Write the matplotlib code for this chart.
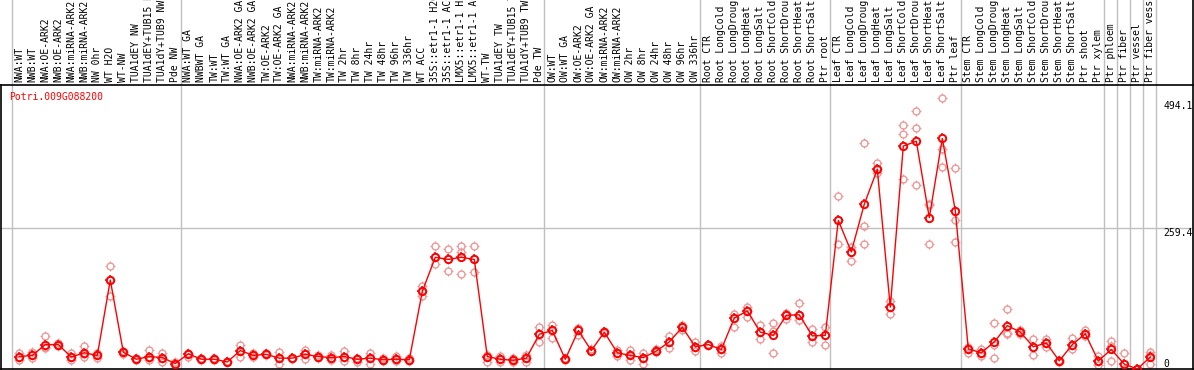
import numpy as np
import matplotlib
matplotlib.use('Agg')
import matplotlib.pyplot as plt
from matplotlib.path import Path
from matplotlib.lines import Line2D

# подписи столбцов (образцы)
labels = [
    'NWA:WT', 'NWB:WT', 'NWA:OE-ARK2', 'NWB:OE-ARK2', 'NWA:miRNA-ARK2', 'NWB:miRNA-ARK2',
    'NW 0hr', 'WT H2O', 'WT-NW', 'TUA1dEY NW', 'TUA1dEY+TUB15 NW', 'TUA1dY+TUB9 NW', 'Pde NW',
    'NWA:WT GA', 'NWBWT GA', 'TW:WT', 'TW:WT GA', 'NWA:OE-ARK2 GA', 'NWB:OE-ARK2 GA',
    'TW:OE-ARK2', 'TW:OE-ARK2 GA', 'NWA:miRNA-ARK2', 'NWB:miRNA-ARK2', 'TW:miRNA-ARK2',
    'TW:miRNA-ARK2', 'TW 2hr', 'TW 8hr', 'TW 24hr', 'TW 48hr', 'TW 96hr', 'TW 336hr',
    'WT ACC', '35S::etr1-1 H2O', '35S::etr1-1 ACC', 'LMX5::etr1-1 H2O', 'LMX5::etr1-1 ACC',
    'WT-TW', 'TUA1dEY TW', 'TUA1dEY+TUB15 TW', 'TUA1dY+TUB9 TW', 'Pde TW',
    'OW:WT', 'OW:WT GA', 'OW:OE-ARK2', 'OW:OE-ARK2 GA', 'OW:miRNA-ARK2', 'OW:miRNA-ARK2',
    'OW 2hr', 'OW 8hr', 'OW 24hr', 'OW 48hr', 'OW 96hr', 'OW 336hr',
    'Root CTR', 'Root LongCold', 'Root LongDrought', 'Root LongHeat', 'Root LongSalt',
    'Root ShortCold', 'Root ShortDrought', 'Root ShortHeat', 'Root ShortSalt', 'Ptr root',
    'Leaf CTR', 'Leaf LongCold', 'Leaf LongDrought', 'Leaf LongHeat', 'Leaf LongSalt',
    'Leaf ShortCold', 'Leaf ShortDrought', 'Leaf ShortHeat', 'Leaf ShortSalt', 'Ptr leaf',
    'Stem CTR', 'Stem LongCold', 'Stem LongDrought', 'Stem LongHeat', 'Stem LongSalt',
    'Stem ShortCold', 'Stem ShortDrought', 'Stem ShortHeat', 'Stem ShortSalt', 'Ptr shoot',
    'Ptr xylem', 'Ptr phloem', 'Ptr fiber', 'Ptr vessel', 'Ptr fiber vessel',
]

# средние значения
means = [23, 25, 45, 45, 22, 30, 25, 164, 31, 18, 23, 21, 10,
         28, 18, 18, 13, 34, 25, 27, 20, 20, 27, 23, 21, 23, 18, 20, 17, 18, 17,
         143, 206, 202, 206, 202, 23, 18, 16, 20, 64,
         71, 18, 71, 34, 68, 30, 25, 21, 33, 50, 77, 41,
         45, 36, 94, 107, 68, 62, 99, 100, 61, 62,
         274, 216, 304, 368, 114, 411, 420, 279, 425, 292,
         37, 30, 50, 80, 68, 41, 48, 15, 45, 65, 15, 36, 9, 0, 22]

# повторности (три на образец)
rep1 = [29, 32, 60, 48, 29, 42, 30, 190, 34, 20, 35, 29, 13,
        30, 20, 21, 15, 44, 29, 30, 32, 21, 35, 26, 26, 34, 21, 30, 20, 24, 20,
        153, 227, 222, 227, 227, 26, 24, 20, 25, 77,
        81, 20, 75, 36, 70, 35, 35, 29, 36, 60, 82, 49,
        47, 42, 101, 115, 82, 84, 104, 122, 74, 77,
        319, 225, 417, 379, 125, 450, 475, 302, 499, 370,
        41, 36, 84, 110, 72, 55, 56, 17, 57, 72, 24, 52, 29, 0, 31]
rep2 = [17, 20, 38, 43, 17, 23, 20, 135, 28, 17, 17, 13, 7,
        23, 17, 17, 12, 23, 23, 25, 10, 19, 19, 21, 16, 15, 13, 10, 15, 14, 15,
        135, 193, 181, 175, 178, 13, 13, 12, 12, 49,
        58, 17, 63, 34, 66, 24, 17, 10, 31, 38, 72, 33,
        44, 30, 78, 95, 55, 29, 93, 91, 49, 45,
        230, 200, 264, 361, 101, 433, 444, 231, 405, 274,
        29, 24, 20, 67, 64, 26, 41, 13, 36, 60, 7, 14, 0, 0, 10]
rep3 = [23, 25, 41, 45, 22, 28, 25, 164, 31, 18, 20, 21, 10,
        28, 18, 18, 13, 34, 25, 27, 20, 20, 27, 23, 21, 23, 18, 20, 17, 18, 17,
        143, 206, 202, 216, 202, 23, 18, 16, 20, 64,
        71, 18, 71, 34, 68, 30, 25, 21, 33, 50, 77, 41,
        45, 36, 94, 107, 68, 70, 99, 100, 61, 62,
        274, 216, 231, 368, 114, 350, 339, 304, 373, 235,
        37, 30, 45, 64, 68, 41, 48, 15, 45, 65, 15, 42, 0, 0, 25]

# границы групп (после последнего образца группы)
group_ends = [-1, 12, 40, 52, 62, 72, 83, 84, 85, 86, 87]

gene = 'Potri.009G088200'
yticks = [0, 259.4, 494.1]

plt.rcParams['font.family'] = 'DejaVu Sans Mono'
fs = 7

fig = plt.figure(figsize=(11.94, 3.70), dpi=100)
W, H = 1194, 370
ax = fig.add_axes([1 / W, 1 / H, 1192 / W, 284 / H])

x = np.arange(len(labels))
ax.set_xlim((1 - 19.3) / 13, (1193 - 19.3) / 13)
ax.set_ylim(0, 523.6)

# риски вокруг кружка (только отрезки снаружи)
ticks = Path([(0, 1), (0, 1.45), (0, -1), (0, -1.45), (1, 0), (1.45, 0), (-1, 0), (-1.45, 0)],
             [Path.MOVETO, Path.LINETO] * 4)


def ring(xs, ys, color, size, lw, z):
    ax.plot(xs, ys, linestyle='none', marker='o', markersize=size, markerfacecolor='none',
            markeredgecolor=color, markeredgewidth=lw, zorder=z)
    ax.plot(xs, ys, linestyle='none', marker=ticks, markersize=size * 1.45,
            markeredgecolor=color, markeredgewidth=lw * 0.8, zorder=z)


# сетка
for g in group_ends:
    ax.axvline(g + 0.4, 0, 1.31, color='#c0c0c0', lw=1, clip_on=False, zorder=0)
ax.axhline(259.4, color='#c0c0c0', lw=1, zorder=0)

# повторности
for r in (rep1, rep2, rep3):
    ring(x, r, '#f09898', 5.0, 1.0, 2)

# среднее
ax.plot(x, means, color='red', lw=1, zorder=3)
ring(x, means, 'red', 5.3, 1.4, 4)

ax.set_xticks([])
ax.set_yticks([])
for s in ['left', 'bottom', 'top']:
    ax.spines[s].set_color('black')
    ax.spines[s].set_linewidth(1.2)
ax.spines['right'].set_visible(False)
fig.add_artist(Line2D([1193 / W, 1193 / W], [1 / H, 1], color='black', lw=1.2))

# подписи образцов
for i, lab in enumerate(labels):
    ax.annotate(lab, (i, 1), xycoords=('data', 'axes fraction'), xytext=(0, 2),
                textcoords='offset points', rotation=90, ha='center', va='bottom',
                fontsize=fs, annotation_clip=False)

# подписи оси Y справа
tx = (1163 - 1) / 1192
ax.text(tx, 494.1, '494.1', transform=ax.get_yaxis_transform(), va='top', ha='left', fontsize=fs)
ax.text(tx, 259.4, '259.4', transform=ax.get_yaxis_transform(), va='top', ha='left', fontsize=fs)
ax.text(tx, 0, '0', transform=ax.get_yaxis_transform(), va='bottom', ha='left', fontsize=fs)
ax.text(8 / 1192, 1 - 7 / 284, gene, transform=ax.transAxes, va='top', ha='left',
        fontsize=fs, color='red')

fig.savefig('out.png', dpi=100)
